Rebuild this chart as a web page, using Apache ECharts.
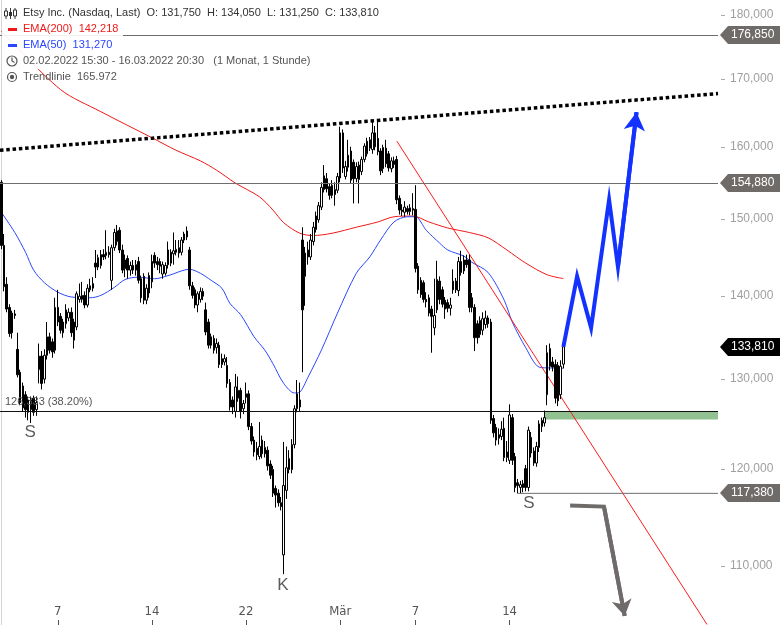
<!DOCTYPE html>
<html><head><meta charset="utf-8">
<script src="https://cdn.jsdelivr.net/npm/echarts@6/dist/echarts.min.js"></script>
<style>html,body{margin:0;padding:0;background:#fff}#c{width:780px;height:625px}</style>
</head><body><div id="c"></div>
<script>
// ---- data (prices in USD) ----
const tradingDays = ['02.02','03.02','04.02','07.02','08.02','09.02','10.02','11.02','14.02','15.02','16.02','17.02','18.02','22.02','23.02','24.02','25.02','28.02','01.03','02.03','03.03','04.03','07.03','08.03','09.03','10.03','11.03','14.03','15.03','16.03'];
const barsPerDay = 7;
const futureSlots = 57;
const tickDays = ['07.02','14.02','22.02','01.03','07.03','14.03'];
const tickTexts = ['7','14','22','Mär','7','14'];
const yTicks = [110,120,130,140,150,160,170,180];

const opens = [155.0,146.5,141.5,138.6,137.9,137.6,133.5,130.8,129.2,128.2,127.6,126.5,127.8,126.5,131.1,132.7,130.0,132.8,135.0,134.4,133.4,138.6,137.5,136.8,136.6,137.3,138.0,134.6,136.2,139.6,139.6,140.1,138.9,140.8,141.0,144.2,143.7,143.9,145.3,145.2,145.6,142.0,146.2,147.0,148.5,145.9,144.6,144.8,143.3,143.9,143.3,144.4,142.2,142.5,139.5,142.6,141.8,145.2,144.4,144.4,142.8,142.9,145.9,145.6,145.4,145.6,145.5,145.6,147.2,147.6,145.9,141.3,140.8,138.9,139.6,140.6,138.3,136.8,135.0,134.8,133.7,134.0,131.7,132.0,131.6,129.6,127.6,126.3,127.8,128.7,126.6,127.9,128.3,124.6,123.1,122.2,121.3,123.1,121.6,122.0,120.5,119.9,117.9,117.4,116.4,111.1,117.7,119.9,119.9,122.6,126.6,126.8,147.2,142.5,145.9,145.0,147.0,148.6,149.9,151.6,154.0,155.5,154.4,153.2,153.3,153.9,155.6,162.0,155.8,157.1,159.4,157.8,155.5,157.4,156.5,158.2,159.0,161.0,159.6,162.0,161.2,159.4,156.9,159.8,159.0,156.9,158.0,158.2,152.8,151.2,150.9,151.4,151.0,151.4,151.3,143.8,142.0,141.7,139.6,139.8,138.4,136.1,138.3,141.9,140.8,139.5,139.2,138.5,140.8,141.9,140.7,144.4,143.2,144.6,144.6,139.8,138.6,136.6,135.3,135.8,136.5,137.3,136.8,125.5,124.5,123.3,123.5,124.4,121.2,120.9,125.6,121.3,118.5,118.0,118.4,120.0,118.0,123.4,121.9,120.6,122.3,124.6,125.0,128.2,133.6,132.0,131.7,131.6,128.2,131.75];
const closes = [146.5,141.2,138.4,135.4,135.5,137.8,130.5,127.3,126.7,126.5,126.2,127.6,126.2,127.3,132.7,129.5,132.8,135.0,133.4,133.2,138.6,136.8,135.8,135.5,138.3,138.0,135.5,136.8,140.3,140.0,140.1,138.9,141.0,141.3,141.6,143.7,144.9,145.3,145.0,145.6,145.3,146.2,148.2,148.4,145.9,143.3,143.5,143.3,143.9,143.3,144.0,142.0,139.8,139.5,141.0,140.4,144.4,144.2,144.0,143.8,144.0,143.9,144.0,144.2,145.8,146.0,146.2,147.2,148.0,148.4,141.3,140.1,138.9,140.3,140.6,140.0,135.6,134.0,134.0,133.4,134.2,131.7,132.4,132.4,129.5,126.8,126.8,129.1,128.7,126.3,127.2,128.3,124.6,123.0,121.8,121.5,122.4,121.6,122.3,120.3,119.3,117.4,117.2,116.4,116.0,118.2,120.1,121.1,122.6,126.6,128.3,127.6,138.3,145.5,145.0,147.2,148.9,150.4,151.8,154.3,155.9,154.1,153.2,154.6,154.0,155.8,162.0,157.0,157.2,158.8,155.3,155.5,157.2,155.4,158.2,160.1,160.8,159.8,162.0,160.0,159.3,156.6,159.9,157.6,157.0,158.0,157.5,152.6,151.2,151.0,151.6,151.0,151.5,151.2,143.5,140.8,140.2,139.6,139.3,137.9,137.5,137.6,142.1,139.6,139.0,138.4,138.5,138.9,141.9,140.8,144.4,143.0,144.6,144.0,138.6,138.6,134.9,134.9,137.0,137.2,137.3,136.6,125.3,123.9,123.1,123.7,124.3,121.2,121.8,125.9,120.9,118.0,118.2,118.3,118.0,118.0,124.2,121.7,120.6,122.4,124.9,125.3,125.6,133.1,131.5,131.4,127.8,127.5,131.5,133.81];
const lows = [146.0,140.6,138.0,135.0,134.8,137.2,130.2,127.0,126.3,125.6,125.3,125.0,125.8,125.8,129.5,128.8,129.5,132.3,133.0,132.5,133.0,136.3,135.4,134.9,136.0,136.9,135.0,133.6,135.8,139.2,139.2,138.5,138.6,140.5,140.6,142.3,143.3,143.5,144.6,144.7,144.9,140.8,145.8,146.5,145.5,142.9,142.4,142.2,142.6,142.8,142.6,141.6,139.2,139.0,139.0,139.8,141.0,143.6,143.3,142.9,142.2,142.6,143.5,143.8,144.0,145.2,144.9,145.2,146.8,147.2,140.8,139.7,138.5,138.0,139.2,139.5,135.2,133.6,133.6,133.0,133.0,131.3,131.3,131.6,129.0,126.4,126.0,125.6,127.4,125.5,126.0,127.2,124.2,122.6,121.3,120.9,121.0,121.1,121.2,119.8,118.9,117.0,115.9,116.0,115.6,109.2,116.8,119.5,119.5,122.2,126.2,126.3,130.8,138.8,144.0,144.6,146.5,148.2,149.5,151.2,153.6,153.6,152.6,152.8,151.8,153.5,155.0,156.3,155.4,156.5,154.9,152.1,155.0,152.1,156.0,157.8,158.6,159.4,159.0,159.5,158.8,156.0,156.3,157.1,156.5,156.4,157.0,152.0,150.6,150.4,150.3,150.6,150.5,150.5,143.0,140.3,139.8,139.2,138.6,137.5,133.1,135.2,137.9,139.0,138.6,137.2,138.0,137.6,140.3,140.4,140.0,142.6,142.8,143.6,138.0,138.0,133.3,134.2,134.9,135.2,136.0,136.1,124.9,123.4,122.5,122.6,123.1,120.8,120.7,120.5,120.4,117.5,117.38,117.4,117.5,117.6,117.6,121.2,120.3,120.2,121.8,124.0,124.6,127.0,131.0,130.9,127.2,126.9,127.7,131.25];
const highs = [155.3,148.0,142.4,139.0,138.2,138.3,135.5,131.1,129.6,128.6,128.0,128.0,128.1,128.0,134.2,133.3,133.5,136.8,135.5,134.8,139.8,140.8,137.9,137.2,139.0,138.5,138.6,137.2,140.6,141.6,141.8,140.6,141.5,142.2,142.4,145.9,145.3,145.9,146.0,148.5,146.4,146.6,148.7,149.2,148.9,146.6,145.3,145.2,144.4,144.6,144.6,145.0,142.6,142.9,141.5,143.0,145.3,145.6,145.0,144.8,144.4,144.3,147.0,146.0,148.2,147.2,147.2,147.6,148.3,149.0,146.3,141.8,141.1,140.6,141.1,141.0,139.2,137.2,135.4,135.2,134.8,134.4,133.0,132.9,132.6,130.0,128.0,130.6,130.3,129.0,127.6,129.6,128.7,125.0,123.5,122.9,125.1,123.6,123.0,122.4,120.9,120.3,118.2,117.8,117.0,122.9,122.4,122.0,123.2,127.0,129.9,129.6,148.9,146.3,147.0,148.0,149.6,151.0,152.3,155.0,157.4,156.3,154.8,155.3,155.0,156.3,162.9,162.5,158.0,161.0,160.0,158.2,157.8,157.9,158.6,160.5,161.3,161.4,163.9,163.0,163.9,159.8,160.3,161.0,159.4,158.5,158.6,158.7,153.2,152.0,152.4,151.8,152.0,153.5,154.6,144.2,142.4,142.0,140.5,140.2,138.8,142.2,144.5,142.5,141.2,139.9,139.6,139.8,143.4,142.3,145.0,145.8,145.2,145.3,145.3,140.4,139.0,137.0,137.5,138.0,138.2,137.6,137.2,125.9,124.9,124.4,125.2,125.6,123.0,127.1,126.0,121.7,118.9,118.7,118.8,120.4,124.6,124.0,122.3,122.9,125.3,125.6,126.4,134.0,134.2,132.6,132.3,132.0,132.2,134.05];

// EMA lines read at sample bars (bar index, price)
const ema200Idx = [0,22,37,56,65,74,80,87,96,101,105,111,116,123,132,140,146,153,159,166,174,181,188,195,203,209];
const ema200Val = [177.4,168.4,165.1,161.3,159.5,158.0,156.7,154.9,153.0,151.2,149.5,148.1,147.8,148.1,148.9,149.6,150.3,150.4,149.6,148.8,148.2,147.5,145.9,144.2,142.7,142.218];
const ema50Idx = [0,5,9,12,16,21,26,33,37,42,46,51,57,62,70,74,78,82,85,89,94,98,101,105,109,111,114,119,125,132,137,141,146,151,154,158,163,166,172,175,181,187,190,195,200,204,209];
const ema50Val = [150.9,148.2,145.6,143.3,141.7,140.5,139.9,139.8,140.1,141.1,142.1,142.4,142.2,142.6,143.4,142.9,142.0,141.0,139.1,137.7,135.0,133.4,131.8,129.5,128.4,128.5,130.2,133.4,137.9,142.9,145.0,147.2,149.6,150.3,150.3,148.5,146.8,145.9,145.1,144.3,143.0,139.5,136.8,133.7,131.4,131.3,131.27];

// drawn annotations (bar index, price)
const trendDotted = [[-0.5,159.5],[266.5,167.8]];
const trendRed = [[147.1,160.8],[262.4,104.4]];
const zigzagBlue = [[209,133.81],[214.1,142.5],[219.3,136.1],[226.0,152.6],[229.3,143.7],[236.2,165.0]];
const arrowGray = [[211.5,116.1],[224.1,116.0],[231.8,105.2]];
const levelLines = [176.85,154.88];
const fibLevel = 126.333;
const supportLow = 117.38; const supportStart = 192;
const zoneTop = 126.333, zoneBottom = 125.4, zoneStart = 202.2;
const lastClose = 133.81;
const letters = [[10.7,124.0,'S'],[104.7,108.1,'K'],[196.2,116.3,'S']];

// ---- build ----
const categories = [];
tradingDays.forEach(d => { for (let h = 0; h < barsPerDay; h++) categories.push(d + ' ' + h); });
for (let i = 0; i < futureSlots; i++) categories.push('f' + i);
const nSlots = categories.length;
const tickIdx = {};
tickDays.forEach((d, k) => { tickIdx[tradingDays.indexOf(d) * barsPerDay] = tickTexts[k]; });
const candles = opens.map((o, i) => [o, closes[i], lows[i], highs[i]]);
const fmt3 = v => v.toFixed(3).replace('.', ',');
const FONT = "'Liberation Sans', Arial, sans-serif";

const chart = echarts.init(document.getElementById('c'));
chart.setOption({
  animation: false,
  grid: { left: 0, right: 62, top: 0, bottom: 0, containLabel: false, outerBoundsMode: 'none' },
  xAxis: [{
    type: 'category', data: categories, boundaryGap: true,
    axisLine: { show: false },
    axisTick: { show: true, inside: true, length: 5, alignWithLabel: true, interval: (i) => tickIdx[i] !== undefined, lineStyle: { color: '#555' } },
    axisLabel: { inside: true, margin: 7, interval: (i) => tickIdx[i] !== undefined, formatter: (v, i) => tickIdx[i] || '',
      color: '#555', fontSize: 13, fontFamily: "'Liberation Sans Narrow','DejaVu Sans Condensed',sans-serif" },
    splitLine: { show: false }
  }, {
    type: 'value', min: -0.5, max: nSlots - 0.5, show: false
  }],
  yAxis: {
    type: 'log', logBase: 10, min: 104.35, max: 182.43, position: 'right',
    axisLine: { show: true, lineStyle: { color: '#d4d4d4' } },
    axisTick: { show: false },
    minorTick: { show: false },
    axisLabel: { customValues: yTicks, margin: 12, color: '#a0a0a0', fontSize: 12, fontFamily: FONT, formatter: v => fmt3(v) },
    splitLine: { show: false }
  },
  series: [
    { type: 'line', xAxisIndex: 1, data: trendDotted, symbol: 'none', silent: true, z: 3,
      lineStyle: { color: '#000', width: 3.5, type: [3.5, 2.8] },
      markArea: { silent: true, itemStyle: { color: '#92c292' },
        data: [[{ coord: [zoneStart, zoneTop] }, { coord: [nSlots - 0.5, zoneBottom] }]] },
      markLine: { silent: true, symbol: 'none', animation: false,
        data: [
          { yAxis: levelLines[0], lineStyle: { color: '#6e6e6e', width: 1, type: 'solid' }, label: { show: false } },
          { yAxis: levelLines[1], lineStyle: { color: '#6e6e6e', width: 1, type: 'solid' }, label: { show: false } },
          { yAxis: fibLevel, lineStyle: { color: '#111', width: 1, type: 'solid' },
            label: { show: true, position: 'insideStartTop', formatter: fmt3(fibLevel) + ' (38.20%)', color: '#555', fontSize: 11, fontFamily: FONT, distance: [5, 4] } }
        ] } },
    { type: 'line', xAxisIndex: 1, data: ema200Idx.map((x, i) => [x, ema200Val[i]]), symbol: 'none', smooth: 0.3, silent: true, z: 2,
      lineStyle: { color: '#f01818', width: 1 } },
    { type: 'line', xAxisIndex: 1, data: ema50Idx.map((x, i) => [x, ema50Val[i]]), symbol: 'none', smooth: 0.3, silent: true, z: 2,
      lineStyle: { color: '#2a46ff', width: 1 } },
    { type: 'line', xAxisIndex: 1, data: trendRed, symbol: 'none', silent: true, z: 2,
      lineStyle: { color: '#ff1a1a', width: 1 } },
    { type: 'line', xAxisIndex: 1, data: [[supportStart, supportLow], [nSlots - 0.5, supportLow]], symbol: 'none', silent: true, z: 2,
      lineStyle: { color: '#6e6e6e', width: 1 } },
    { type: 'candlestick', xAxisIndex: 0, data: candles, barWidth: 2, z: 4, silent: true,
      itemStyle: { color: '#fff', color0: '#000', borderColor: '#000', borderColor0: '#000', borderWidth: 1 } },
    { type: 'line', xAxisIndex: 1, data: zigzagBlue, symbol: 'none', silent: true, z: 6,
      lineStyle: { color: '#1432ff', width: 4, cap: 'butt', join: 'miter' },
      markLine: { silent: true, symbol: ['none', 'arrow'], symbolSize: [16, 18], animation: false,
        lineStyle: { color: '#1432ff', width: 4, type: 'solid' }, label: { show: false },
        data: [[{ coord: zigzagBlue[zigzagBlue.length - 2] }, { coord: zigzagBlue[zigzagBlue.length - 1] }]] } },
    { type: 'line', xAxisIndex: 1, data: arrowGray, symbol: 'none', silent: true, z: 6,
      lineStyle: { color: '#6f6b6b', width: 4, join: 'miter' },
      markLine: { silent: true, symbol: ['none', 'arrow'], symbolSize: [15, 16], animation: false,
        lineStyle: { color: '#6f6b6b', width: 4, type: 'solid' }, label: { show: false },
        data: [[{ coord: arrowGray[arrowGray.length - 2] }, { coord: arrowGray[arrowGray.length - 1] }]] } },
    { type: 'scatter', xAxisIndex: 1, data: letters, symbolSize: 1, silent: true, z: 7,
      itemStyle: { color: 'rgba(0,0,0,0)' },
      label: { show: true, position: 'inside', formatter: p => p.data[2], color: '#333', fontSize: 17, fontFamily: FONT } }
  ]
});

// ---- overlays: legend rows, y ticks and price tags ----
const gx = chart.convertToPixel({ xAxisIndex: 1 }, nSlots - 0.5);
const g = [];
const rowY = [13, 29, 45, 61, 77];
const rows = [
  { t: 'Etsy Inc. (Nasdaq, Last)  O: 131,750  H: 134,050  L: 131,250  C: 133,810', c: '#333', w: 382 },
  { t: 'EMA(200)  142,218', c: '#f01818', w: 123 },
  { t: 'EMA(50)  131,270', c: '#2a46ff', w: 118 },
  { t: '02.02.2022 15:30 - 16.03.2022 20:30   (1 Monat, 1 Stunde)', c: '#555', w: 312 },
  { t: 'Trendlinie  165.972', c: '#555', w: 0 }
];
rows.forEach((r, i) => {
  if (r.w) g.push({ type: 'rect', shape: { x: 2, y: rowY[i] - 8, width: r.w - 2, height: 16 }, style: { fill: 'rgba(255,255,255,0.9)' }, z: 100 });
  g.push({ type: 'text', x: 23, y: rowY[i], z: 101, style: { text: r.t, fill: r.c, font: '11px ' + FONT, textVerticalAlign: 'middle' } });
});
// icons
g.push({ type: 'line', shape: { x1: 6, y1: 8, x2: 6, y2: 19 }, style: { stroke: '#333', lineWidth: 1 }, z: 101 });
g.push({ type: 'rect', shape: { x: 4.5, y: 11, width: 3, height: 5 }, style: { fill: '#fff', stroke: '#333', lineWidth: 1 }, z: 102 });
g.push({ type: 'line', shape: { x1: 10.5, y1: 8, x2: 10.5, y2: 19 }, style: { stroke: '#333', lineWidth: 1 }, z: 101 });
g.push({ type: 'rect', shape: { x: 9, y: 12, width: 3, height: 4 }, style: { fill: '#333' }, z: 102 });
g.push({ type: 'line', shape: { x1: 15, y1: 8, x2: 15, y2: 19 }, style: { stroke: '#333', lineWidth: 1 }, z: 101 });
g.push({ type: 'rect', shape: { x: 13.5, y: 10, width: 3, height: 6 }, style: { fill: '#fff', stroke: '#333', lineWidth: 1 }, z: 102 });
g.push({ type: 'rect', shape: { x: 8, y: 28, width: 9, height: 3 }, style: { fill: '#f01818' }, z: 101 });
g.push({ type: 'rect', shape: { x: 8, y: 44, width: 9, height: 3 }, style: { fill: '#2a46ff' }, z: 101 });
g.push({ type: 'circle', shape: { cx: 12, cy: 61, r: 5 }, style: { fill: 'none', stroke: '#555', lineWidth: 1.2 }, z: 101 });
g.push({ type: 'polyline', shape: { points: [[12, 57.5], [12, 61], [14.5, 62.5]] }, style: { stroke: '#555', lineWidth: 1.2, fill: 'none' }, z: 101 });
g.push({ type: 'circle', shape: { cx: 12, cy: 77, r: 4.5 }, style: { fill: 'none', stroke: '#555', lineWidth: 1.2 }, z: 101 });
g.push({ type: 'circle', shape: { cx: 12, cy: 77, r: 2.2 }, style: { fill: '#555' }, z: 101 });
// y ticks on the right of the axis
yTicks.forEach(v => {
  const y = Math.round(chart.convertToPixel({ yAxisIndex: 0 }, v)) + 0.5;
  g.push({ type: 'line', z: 90, shape: { x1: gx + 3, y1: y, x2: gx + 7, y2: y }, style: { stroke: '#aaa', lineWidth: 1 } });
});
// price tags
const tags = [[levelLines[0], '#6f6b69'], [levelLines[1], '#6f6b69'], [lastClose, '#000'], [supportLow, '#6f6b69']];
tags.forEach(([v, col]) => {
  const y = Math.round(chart.convertToPixel({ yAxisIndex: 0 }, v));
  g.push({ type: 'polygon', z: 110, shape: { points: [[gx + 2, y], [gx + 10, y - 9], [780, y - 9], [780, y + 9], [gx + 10, y + 9]] }, style: { fill: col } });
  g.push({ type: 'text', z: 111, x: gx + 13, y: y, style: { text: fmt3(v), fill: '#fff', font: '12px ' + FONT, textVerticalAlign: 'middle' } });
});
chart.setOption({ graphic: g });
</script>
</body></html>
